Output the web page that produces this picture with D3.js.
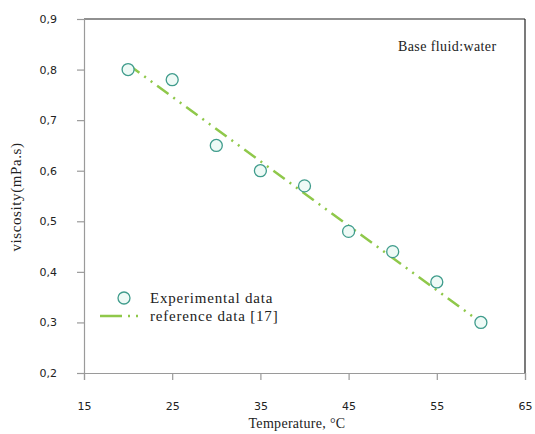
<!DOCTYPE html>
<html>
<head>
<meta charset="utf-8">
<script src="https://cdn.jsdelivr.net/npm/d3@7"></script>
<style>
  html, body { margin: 0; padding: 0; background: #fff; }
  svg { display: block; }
</style>
</head>
<body>
<svg id="chart" width="535" height="434"></svg>
<script>
// Measured viscosity of the base fluid versus temperature
const temperature = [20, 25, 30, 35, 40, 45, 50, 55, 60];
const viscosity   = [0.80, 0.78, 0.65, 0.60, 0.57, 0.48, 0.44, 0.38, 0.30];

// Reference correlation [17]
const refTemperature = [20, 60];
const refViscosity   = [0.81, 0.30];

const xTicks = [15, 25, 35, 45, 55, 65];
const yTicks = [0.2, 0.3, 0.4, 0.5, 0.6, 0.7, 0.8, 0.9];

(function () {
  const svg = d3.select("#chart");
  const plotLeft = 84, plotRight = 525, plotTop = 19, plotBottom = 373;

  const x = d3.scaleLinear().domain([15, 65]).range([plotLeft, plotRight]);
  const y = d3.scaleLinear().domain([0.2, 0.9]).range([plotBottom, plotTop]);

  const numFont = "DejaVu Sans, Verdana, sans-serif";
  const textFont = "Liberation Serif, Times New Roman, serif";
  const fmt = d => d3.format(".1f")(d).replace(".", ",");

  // Frame: top and right edges dark
  svg.append("line").attr("x1", plotLeft).attr("x2", plotRight).attr("y1", plotTop).attr("y2", plotTop)
    .attr("stroke", "#222").attr("stroke-width", 1.2);
  svg.append("line").attr("x1", plotRight).attr("x2", plotRight).attr("y1", plotTop).attr("y2", plotBottom)
    .attr("stroke", "#222").attr("stroke-width", 1.2);

  // Axes
  const xAxis = svg.append("g").attr("transform", `translate(0,${plotBottom})`)
    .call(d3.axisBottom(x).tickValues(xTicks).tickSize(7).tickFormat(d => d));
  const yAxis = svg.append("g").attr("transform", `translate(${plotLeft},0)`)
    .call(d3.axisLeft(y).tickValues(yTicks).tickSize(7).tickFormat(fmt));

  [xAxis, yAxis].forEach(g => {
    g.select(".domain").attr("stroke", "#9a9a9a").attr("stroke-width", 1.2);
    g.selectAll(".tick line").attr("stroke", "#9a9a9a").attr("stroke-width", 1.2);
    g.selectAll(".tick text").attr("fill", "#222").attr("font-family", numFont).attr("font-size", 11);
  });
  xAxis.selectAll(".tick text").attr("dy", "0").attr("y", 37);
  yAxis.selectAll(".tick text").attr("x", -27);

  // Axis titles
  svg.append("text").attr("x", 297).attr("y", 428).attr("text-anchor", "middle")
    .attr("font-family", textFont).attr("font-size", 14).attr("letter-spacing", 0.3)
    .attr("fill", "#222").text("Temperature, °C");
  svg.append("text").attr("transform", "translate(21,197) rotate(-90)")
    .attr("text-anchor", "middle").attr("font-family", textFont).attr("font-size", 15)
    .attr("letter-spacing", 0.6).attr("fill", "#222").text("viscosity(mPa.s)");

  // Reference line (dash-dot-dot)
  const green = "#8fc84a";
  svg.append("path")
    .datum(refTemperature.map((t, i) => [t, refViscosity[i]]))
    .attr("d", d3.line().x(d => x(d[0])).y(d => y(d[1])))
    .attr("fill", "none").attr("stroke", green).attr("stroke-width", 2.5)
    .attr("stroke-dasharray", "14,6,2,6,2,6");

  // Experimental points
  const stroke = "#3f9c8c", fill = "#eefaf6";
  svg.append("g").selectAll("circle")
    .data(temperature.map((t, i) => [t, viscosity[i]]))
    .join("circle")
    .attr("cx", d => x(d[0])).attr("cy", d => y(d[1])).attr("r", 6)
    .attr("fill", fill).attr("stroke", stroke).attr("stroke-width", 1.3);

  // Annotation
  svg.append("text").attr("x", 398).attr("y", 51)
    .attr("font-family", textFont).attr("font-size", 14).attr("letter-spacing", 0.4)
    .attr("fill", "#222").text("Base fluid:water");

  // Legend
  const legend = svg.append("g");
  legend.append("circle").attr("cx", 124).attr("cy", 298).attr("r", 6)
    .attr("fill", fill).attr("stroke", stroke).attr("stroke-width", 1.3);
  legend.append("text").attr("x", 150).attr("y", 303)
    .attr("font-family", textFont).attr("font-size", 15).attr("letter-spacing", 0.8)
    .attr("fill", "#222").text("Experimental data");
  legend.append("line").attr("x1", 100).attr("x2", 142).attr("y1", 316).attr("y2", 316)
    .attr("stroke", green).attr("stroke-width", 2.5).attr("stroke-dasharray", "22,6,2,6,2,6");
  legend.append("text").attr("x", 150).attr("y", 321)
    .attr("font-family", textFont).attr("font-size", 15).attr("letter-spacing", 0.8)
    .attr("fill", "#222").text("reference data [17]");
})();
</script>
</body>
</html>
